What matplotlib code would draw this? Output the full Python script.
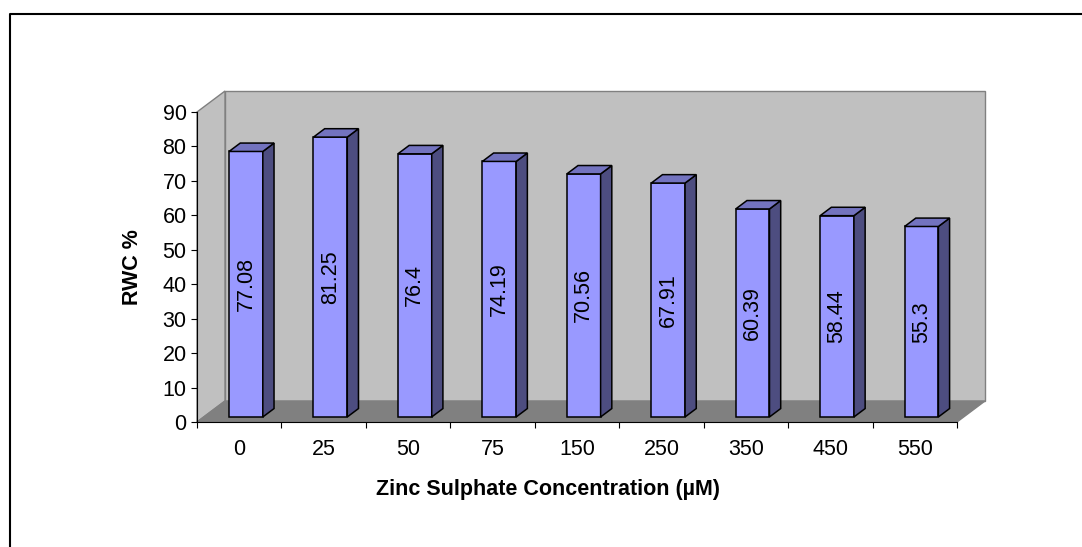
import matplotlib.pyplot as plt
from matplotlib.patches import Polygon
from matplotlib.lines import Line2D

concentrations = ['0', '25', '50', '75', '150', '250', '350', '450', '550']
rwc = [77.08, 81.25, 76.4, 74.19, 70.56, 67.91, 60.39, 58.44, 55.3]
y_ticks = list(range(0, 100, 10))

plt.rcParams['font.family'] = ['Liberation Sans', 'DejaVu Sans']
FS = 15.5

W, H = 1082, 547
fig = plt.figure(figsize=(W / 100, H / 100), dpi=100)
ax = fig.add_axes([197 / W, (H - 422) / H, 760 / W, 310 / H])
n = len(rwc)
ymax = y_ticks[-1]
ax.set_xlim(0, n)
ax.set_ylim(0, ymax)

# oblique depth offset of the back wall, in data units
DX = 28 / 760 * n
DY = 21 / 310 * ymax


def proj(x, y, d):
    return (x + d * DX, y + d * DY)


def face(pts, fc, ec, lw, z):
    ax.add_patch(Polygon(pts, closed=True, facecolor=fc, edgecolor=ec,
                         linewidth=lw, zorder=z, clip_on=False))


# walls and floor
face([proj(0, 0, 1), proj(n, 0, 1), proj(n, ymax, 1), proj(0, ymax, 1)],
     '#C0C0C0', '#808080', 1.0, 0.5)
face([proj(0, 0, 0), proj(0, 0, 1), proj(0, ymax, 1), proj(0, ymax, 0)],
     '#C0C0C0', '#808080', 1.0, 0.6)
face([proj(0, 0, 0), proj(n, 0, 0), proj(n, 0, 1), proj(0, 0, 1)],
     '#808080', '#808080', 1.0, 0.7)

# 3d columns
d0, d1 = 0.24, 0.64
for i, v in enumerate(rwc):
    x0, x1 = i + 0.3, i + 0.7
    face([proj(x0, 0, d0), proj(x1, 0, d0), proj(x1, v, d0), proj(x0, v, d0)],
         '#9999FF', 'black', 1.1, 1)
    face([proj(x1, 0, d0), proj(x1, 0, d1), proj(x1, v, d1), proj(x1, v, d0)],
         '#4D4D80', 'black', 1.1, 1)
    face([proj(x0, v, d0), proj(x1, v, d0), proj(x1, v, d1), proj(x0, v, d1)],
         '#7373BF', 'black', 1.1, 1)
    cx, cy = proj((x0 + x1) / 2, v / 2, d0)
    ax.text(cx, cy, f'{v:g}', rotation=90, ha='center', va='center',
            fontsize=FS, zorder=2)

# axes
for s in ['top', 'right']:
    ax.spines[s].set_visible(False)
for s in ['left', 'bottom']:
    ax.spines[s].set_linewidth(0.8)
    ax.spines[s].set_zorder(3)
ax.set_facecolor('none')

ax.set_yticks(y_ticks)
ax.tick_params(axis='y', direction='out', length=4.5, width=0.8, pad=3,
               labelsize=FS)
ax.set_xticks(range(n + 1))
ax.set_xticklabels([])
ax.set_xticks([i + 0.5 for i in range(n)], minor=True)
ax.set_xticklabels(concentrations, minor=True)
ax.tick_params(axis='x', which='major', direction='out', length=4.5, width=0.8)
ax.tick_params(axis='x', which='minor', length=0, pad=12.5, labelsize=FS)

fig.text(548 / W, 1 - 490 / H, 'Zinc Sulphate Concentration (µM)',
         ha='center', va='center', fontsize=FS, fontweight='bold')
fig.text(132 / W, 1 - 267 / H, 'RWC %', rotation=90,
         ha='center', va='center', fontsize=FS, fontweight='bold')

# chart area border
fig.add_artist(Line2D([9.5 / W, 9.5 / W, 1], [0, 1 - 13.5 / H, 1 - 13.5 / H],
                      transform=fig.transFigure, color='black', linewidth=1.5))

fig.savefig('out.png', dpi=100)
